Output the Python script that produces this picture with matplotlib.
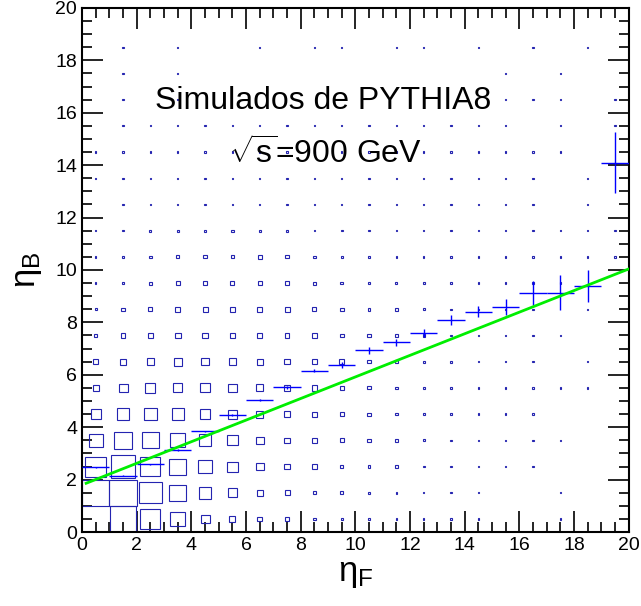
import numpy as np
import matplotlib
matplotlib.use("Agg")
import matplotlib.pyplot as plt
from matplotlib.patches import Rectangle
from matplotlib.ticker import MultipleLocator

plt.rcParams['font.family'] = ['Liberation Sans', 'DejaVu Sans']
plt.rcParams['mathtext.fontset'] = 'custom'
plt.rcParams['mathtext.rm'] = 'Liberation Sans'
plt.rcParams['mathtext.it'] = 'Liberation Sans'

# bin centres (eta_F along x, eta_B along y)
bins = np.arange(0.5, 20, 1.0)

# 2D histogram contents, one row per eta_B bin (bottom row first)
row_00 = [0, 960, 530, 290, 109, 48, 29, 17, 6.4, 3.6, 3.6, 2.5, 2.5, 2.5, 2.5, 0, 0, 2.5, 0, 0]
row_01 = [1000, 1000, 672, 372, 212, 109, 53, 32, 14, 10, 6.4, 3.6, 2.5, 2.5, 2.5, 0, 0, 2.5, 0, 0]
row_02 = [578, 774, 533, 372, 240, 144, 84, 48, 29, 14, 10, 6.4, 3.6, 3.6, 2.5, 2.5, 2.5, 0, 0, 0]
row_03 = [260, 397, 360, 292, 202, 144, 84, 44, 40, 22, 14, 8.1, 6.4, 3.6, 2.5, 2.5, 2.5, 2.5, 0, 0]
row_04 = [137, 212, 202, 185, 152, 122, 73, 48, 40, 26, 14, 10, 6.4, 4.9, 2.5, 2.5, 2.5, 0, 0, 0]
row_05 = [48, 109, 137, 116, 122, 90, 68, 40, 40, 22, 14, 10, 6.4, 4.9, 2.5, 2.5, 2.5, 2.5, 2.5, 0]
row_06 = [29, 58, 78, 84, 78, 73, 53, 40, 40, 29, 14, 10, 6.4, 4.9, 2.5, 2.5, 2.5, 0, 2.5, 0]
row_07 = [12, 29, 44, 48, 48, 44, 32, 29, 32, 22, 14, 10, 6.4, 3.6, 2.5, 2.5, 2.5, 2.5, 0, 0]
row_08 = [6.4, 14, 22, 32, 32, 32, 32, 32, 22, 17, 10, 10, 4.9, 3.6, 2.5, 2.5, 2.5, 0, 2.5, 0]
row_09 = [2.5, 10, 14, 20, 20, 20, 26, 20, 14, 10, 10, 4.9, 3.6, 2.5, 2.5, 2.5, 2.5, 2.5, 0, 0]
row_10 = [2.5, 6.4, 10, 14, 14, 14, 20, 14, 10, 6.4, 3.6, 3.6, 2.5, 2.5, 2.5, 2.5, 2.5, 2.5, 2.5, 2.5]
row_11 = [2.5, 3.6, 6.4, 6.4, 6.4, 6.4, 6.4, 4.9, 3.6, 3.6, 2.5, 2.5, 2.5, 2.5, 2.5, 2.5, 2.5, 2.5, 2.5, 2.5]
row_12 = [0, 2.5, 2.5, 2.5, 2.5, 2.5, 2.5, 2.5, 2.5, 2.5, 2.5, 2.5, 2.5, 2.5, 2.5, 2.5, 2.5, 0, 2.5, 0]
row_13 = [2.5, 2.5, 2.5, 2.5, 2.5, 2.5, 2.5, 2.5, 2.5, 2.5, 2.5, 2.5, 2.5, 2.5, 2.5, 2.5, 2.5, 0, 2.5, 0]
row_14 = [2.5, 2.5, 2.5, 2.5, 2.5, 2.5, 2.5, 2.5, 2.5, 2.5, 2.5, 2.5, 2.5, 2.5, 2.5, 2.5, 2.5, 2.5, 0, 0]
row_15 = [0, 2.5, 2.5, 2.5, 2.5, 2.5, 2.5, 2.5, 2.5, 2.5, 2.5, 2.5, 2.5, 2.5, 2.5, 2.5, 0, 2.5, 0, 2.5]
row_16 = [0, 2.5, 0, 2.5, 0, 0, 0, 0, 0, 0, 0, 0, 0, 0, 0, 2.5, 2.5, 2.5, 0, 2.5]
row_17 = [0, 2.5, 0, 2.5, 0, 0, 0, 0, 0, 0, 0, 0, 0, 0, 0, 2.5, 0, 2.5, 0, 0]
row_18 = [0, 2.5, 0, 2.5, 0, 0, 2.5, 0, 2.5, 2.5, 0, 2.5, 2.5, 0, 2.5, 0, 2.5, 0, 2.5, 0]
row_19 = [0] * 20
counts = np.array([row_00, row_01, row_02, row_03, row_04, row_05, row_06, row_07, row_08, row_09,
                   row_10, row_11, row_12, row_13, row_14, row_15, row_16, row_17, row_18, row_19])

# profile: mean eta_B per eta_F bin and its error
prof_mean = [2.47, 2.15, 2.58, 3.14, 3.84, 4.46, 5.04, 5.52, 6.16, 6.37,
             6.93, 7.24, 7.60, 8.09, 8.41, 8.60, 9.13, 9.13, 9.39, 14.10]
prof_err = [0.02, 0.02, 0.02, 0.03, 0.03, 0.04, 0.05, 0.06, 0.07, 0.10,
            0.12, 0.13, 0.15, 0.18, 0.22, 0.30, 0.45, 0.67, 0.60, 1.15]

# linear fit
fit_p0 = 1.80
fit_p1 = 0.412
fit_range = [0.15, 20.0]

fig = plt.figure(figsize=(6.41, 6.06), dpi=100)
ax = fig.add_axes([0.128, 0.122, 0.853, 0.865])

zmax = counts.max()
for j, yc in enumerate(bins):
    for i, xc in enumerate(bins):
        z = counts[j, i]
        if z <= 0:
            continue
        s = np.sqrt(z / zmax)
        ax.add_patch(Rectangle((xc - s / 2, yc - s / 2), s, s, fill=False,
                               ec='#2424b0', lw=0.8, zorder=2))

ax.errorbar(bins, prof_mean, xerr=0.5, yerr=prof_err, fmt='none',
            ecolor='#0000ff', elinewidth=1.0, capsize=0, zorder=3)

fx = np.array(fit_range)
ax.plot(fx, fit_p0 + fit_p1 * fx, color='#00ee00', lw=2, zorder=4)

ax.text(8.8, 16.45, 'Simulados de PYTHIA8', fontsize=23, ha='center', va='center')
ax.text(8.9, 14.4, r'$\sqrt{s}$=900 GeV', fontsize=23, ha='center', va='center')

ax.set_xlim(0, 20)
ax.set_ylim(0, 20)
ax.xaxis.set_major_locator(MultipleLocator(2))
ax.yaxis.set_major_locator(MultipleLocator(2))
ax.xaxis.set_minor_locator(MultipleLocator(0.5))
ax.yaxis.set_minor_locator(MultipleLocator(0.5))
ax.tick_params(which='both', direction='in', top=True, right=True, width=1.2,
               labelsize=14)
ax.tick_params(which='major', length=15)
ax.tick_params(which='minor', length=7.5)
for sp in ax.spines.values():
    sp.set_linewidth(1.5)

ax.set_xlabel(r'$\eta_{F}$', fontsize=25, labelpad=2)
ax.set_ylabel(r'$\eta_{B}$', fontsize=25, labelpad=8)

fig.savefig('out.png', dpi=100)
